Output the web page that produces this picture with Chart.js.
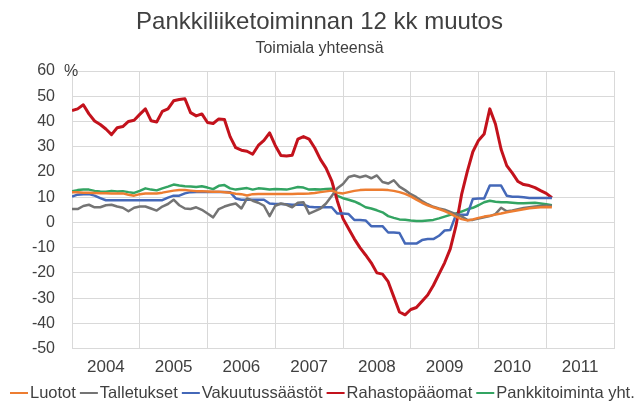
<!DOCTYPE html>
<html><head><meta charset="utf-8">
<script src="https://cdn.jsdelivr.net/npm/chart.js@4.4.1/dist/chart.umd.min.js"></script>
<style>html,body{margin:0;padding:0;background:#fff;}#wrap{width:639px;height:403px;}</style>
</head><body><div id="wrap"><canvas id="c" width="639" height="403"></canvas></div>
<script>
const titleText = 'Pankkiliiketoiminnan 12 kk muutos';
const subtitleText = 'Toimiala yhteensä';
const unitLabel = '%';
const years = ['2004','2005','2006','2007','2008','2009','2010','2011'];
const seriesNames = ['Luotot','Talletukset','Vakuutussäästöt','Rahastopääomat','Pankkitoiminta yht.'];
const seriesColors = ['#ED7D31','#747474','#4468B8','#C3121C','#33A462'];

// monthly values, Jan 2004 onwards
const luotot = [12,12,11.8,11.8,11.7,11.6,11.6,11.5,11.5,11.5,11,10.6,11.2,11.5,11.5,11.5,11.8,12.2,12.6,12.8,12.8,12.6,12.4,12.4,12.3,12.2,12.2,12,11.8,11.4,11.2,10.7,11.2,11.3,11.3,11.3,11.3,11.3,11.3,11.3,11.4,11.4,11.5,11.7,12,12.3,12.6,11.8,11.5,12,12.5,12.8,12.9,12.9,12.9,12.9,12.8,12.5,12,11.3,10.3,9,7.8,6.8,6,5.3,4.5,3.5,2.3,1.3,0.8,1.2,1.8,2.3,2.6,3.1,3.5,4,4.4,4.8,5.2,5.6,5.8,6,6.1,6];
const talletukset = [5.3,5.3,6.5,7,6,6,6.8,7,6.3,5.8,4.4,5.8,6.3,6.3,5.5,4.7,6.3,7.3,9,6.8,5.5,5.3,6,5,3.5,2,5.3,6.3,7,7.5,5.5,9.5,8.6,7.8,6.6,2.5,6.6,7.5,7,6,7.8,8,3.5,4.5,5.5,7.5,10.5,13.5,15.2,18,18.6,17.9,18.5,17.5,18.6,16,15.4,16.7,14.2,12.8,11.2,10,8.5,7.2,6.2,5.5,5,4.2,3.3,2.4,1,1,1.5,2,2.5,3.3,5.8,4.4,4.7,5.2,5.7,6,6.3,6.5,6.6,6.6];
const vakuutus = [10.2,11,11.2,11.2,10.6,9.6,8.8,8.8,8.8,8.8,8.8,8.8,8.8,8.8,8.8,8.8,8.8,9.8,10.6,10.6,11.5,12,12.1,12.1,12.1,12.1,12.1,12.1,12,9.5,9,9,9,9,9,7.5,7.3,7.3,7.2,7,7,7,6.2,6,6,6,6,3.5,3.5,3.3,1,1,0.8,-1.5,-1.5,-1.5,-4,-4,-4.2,-8.4,-8.4,-8.4,-7,-6.6,-6.6,-5.3,-3.2,-3,3,3,3,9.3,9.5,9.5,14.6,14.6,14.6,10.6,10.2,10.2,10,9.7,9.7,9.7,9.7,9.7];
const rahasto = [44.3,45,46.6,43,40.2,38.8,37,34.8,37.5,38,40,40.5,42.8,45,40.3,39.8,44,45,48.2,48.7,49,43.5,42.2,43,39.6,39.2,41,40.8,34,29.6,28.6,28.2,27,30.5,32.5,35.5,30.5,26.5,26.3,26.6,33,34,33,29.5,25,21.5,16.5,8.5,1.5,-2.5,-6.5,-10,-12.9,-16,-20,-20.5,-23.5,-29.5,-35.5,-36.6,-34.5,-33.7,-31.2,-28.8,-25,-20.5,-16,-10.5,-1.5,11,20,28,32.5,35,45,39,29,22.5,19.5,16.2,15,14.6,13.8,12.6,11.5,9.8];
const pankki = [12.3,12.8,13,13,12.5,12.3,12.2,12.5,12.3,12.4,12,11.7,12.5,13.5,13,12.7,13.5,14.2,15,14.6,14.3,14.2,14,14.3,13.8,13.2,14.5,14.8,13.5,13,13.3,13.6,13,13.5,13.3,13,13.2,13.1,13,13.5,14,13.8,13,13.1,13,13.2,13.3,10.5,9.6,9,8.3,7.3,6,5.5,4.8,4,2.5,1.8,1.2,1.1,0.8,0.6,0.6,0.8,1,1.6,2.3,3,3.6,4.3,5.2,5.8,6.8,8,8.6,8.2,8,8,7.8,7.6,7.6,7.7,7.8,7.5,7.2,6.8];

const FONT = "'Liberation Sans', Arial, sans-serif";
const TEXT = '#404040';
const GRID = '#d9d9d9';
const allSeries = [luotot, talletukset, vakuutus, rahasto, pankki];
const monthIndex = rahasto.map((_, i) => i);

const extras = {
  id: 'extras',
  afterDraw(chart) {
    const ctx = chart.ctx;
    const ys = chart.scales.y;
    ctx.save();
    ctx.fillStyle = TEXT;
    ctx.font = '16px ' + FONT;
    ctx.textBaseline = 'middle';
    ctx.textAlign = 'left';
    ctx.fillText(unitLabel, chart.chartArea.left - 8, ys.getPixelForValue(ys.max) + 1);
    // legend
    ctx.font = '16.5px ' + FONT;
    const items = chart.data.datasets.map(d => ({text: d.label, color: d.borderColor, w: ctx.measureText(d.label).width}));
    const lineW = 18, gap = 2, itemGap = 4;
    const total = items.reduce((s, it) => s + lineW + gap + it.w + itemGap, 0) - itemGap;
    let x = Math.max(10, (chart.width - total) / 2);
    const y = 393;
    for (const it of items) {
      ctx.strokeStyle = it.color;
      ctx.lineWidth = 2;
      ctx.beginPath(); ctx.moveTo(x, y); ctx.lineTo(x + lineW, y); ctx.stroke();
      ctx.fillText(it.text, x + lineW + gap, y);
      x += lineW + gap + it.w + itemGap;
    }
    ctx.restore();
  }
};

new Chart(document.getElementById('c'), {
  type: 'line',
  data: {
    labels: monthIndex,
    datasets: allSeries.map((s, k) => ({
      label: seriesNames[k],
      data: s,
      borderColor: seriesColors[k],
      backgroundColor: seriesColors[k],
      borderWidth: k === 3 ? 3 : 2.5,
      pointRadius: 0,
      tension: 0,
      borderJoinStyle: 'round',
      fill: false
    }))
  },
  options: {
    responsive: false,
    animation: false,
    devicePixelRatio: 1,
    layout: {padding: {left: 0, right: 0, top: 0, bottom: 16}},
    plugins: {
      legend: {display: false},
      tooltip: {enabled: false},
      title: {display: true, text: titleText, color: TEXT, font: {family: FONT, size: 24, weight: 'normal', lineHeight: 1.2}, padding: {top: 8, bottom: 0}},
      subtitle: {display: true, text: subtitleText, color: TEXT, font: {family: FONT, size: 16, weight: 'normal', lineHeight: 1.2}, padding: {top: 2, bottom: 13}}
    },
    scales: {
      x: {
        type: 'linear', min: 0, max: years.length * 12, offset: false,
        afterBuildTicks: axis => { axis.ticks = Array.from({length: years.length * 2 + 1}, (_, i) => ({value: i * 6})); },
        grid: {color: c => (c.tick && c.tick.value % 12 === 0) ? GRID : 'rgba(0,0,0,0)', drawTicks: false, lineWidth: 1},
        border: {display: true, color: GRID},
        ticks: {autoSkip: false, maxRotation: 0, minRotation: 0, padding: 9, color: TEXT, font: {family: FONT, size: 17},
          callback: v => (v % 12 === 6) ? years[(v - 6) / 12] : ''}
      },
      y: {
        min: -50, max: 60,
        afterFit: s => { s.width = 72; },
        grid: {color: GRID, drawTicks: false, lineWidth: 1},
        border: {display: true, color: GRID},
        ticks: {stepSize: 10, padding: 17, color: TEXT, font: {family: FONT, size: 16}}
      },
      yRight: {
        position: 'right', display: true,
        afterFit: s => { s.width = 25; },
        grid: {display: false}, border: {display: false}, ticks: {display: false}
      }
    }
  },
  plugins: [extras]
});
</script></body></html>
